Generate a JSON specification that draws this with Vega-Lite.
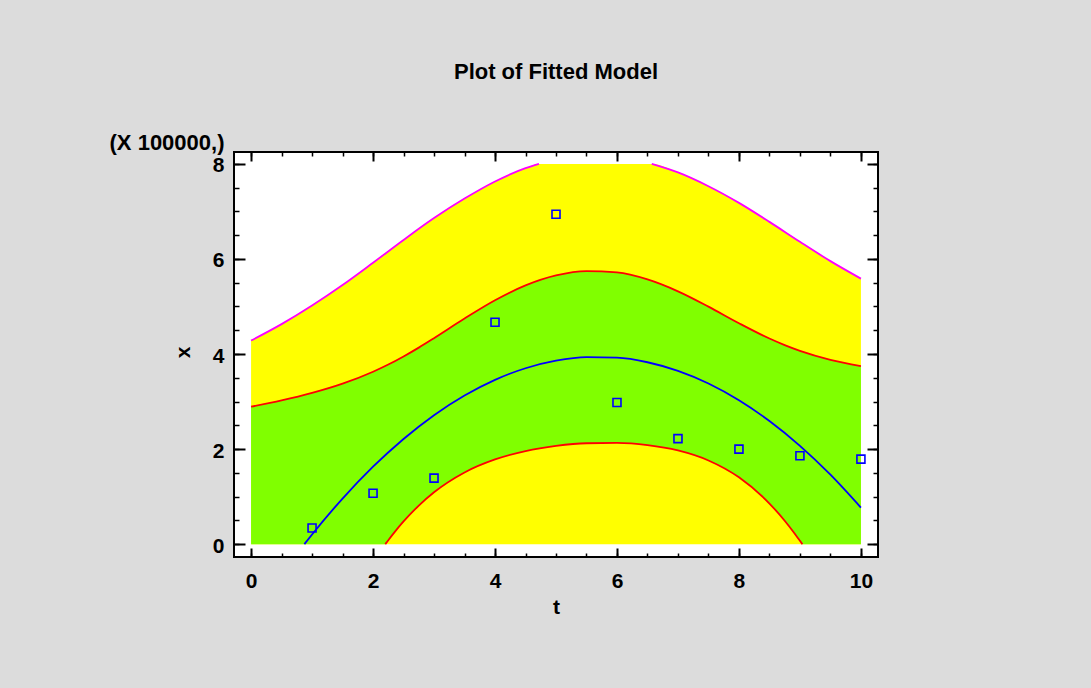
{
  "$schema": "https://vega.github.io/schema/vega-lite/v6.json",
  "width": 644,
  "height": 405,
  "autosize": {"type": "none"},
  "padding": {"left": 234, "top": 152, "right": 213, "bottom": 131},
  "background": "#dcdcdc",
  "title": {"text": "Plot of Fitted Model", "font": "Liberation Sans", "fontSize": 22, "fontWeight": "bold", "color": "#000000", "anchor": "middle", "baseline": "alphabetic", "offset": 30},
  "config": {
    "view": {"stroke": "#000000", "strokeWidth": 2, "fill": "#ffffff"},
    "axis": {"labelFont": "Liberation Sans", "labelFontSize": 21, "labelFontWeight": "bold", "labelColor": "#000000", "titleFont": "Liberation Sans", "titleFontSize": 21, "titleFontWeight": "bold", "titleColor": "#000000", "domain": false, "grid": false, "tickColor": "#000000", "labelFlush": false, "labelOverlap": false, "zindex": 1}
  },
  "datasets": {
    "band": [
      {"t": 0, "pu": 4.283, "cu": 2.892, "cl": 0},
      {"t": 0.5, "pu": 4.629, "cu": 3.023, "cl": 0},
      {"t": 1, "pu": 5.02, "cu": 3.181, "cl": 0},
      {"t": 1.5, "pu": 5.451, "cu": 3.376, "cl": 0},
      {"t": 2, "pu": 5.92, "cu": 3.628, "cl": 0},
      {"t": 2.2, "pu": 6.11, "cu": 3.747, "cl": 0},
      {"t": 2.25, "pu": 6.16, "cu": 3.779, "cl": 0.084},
      {"t": 2.35, "pu": 6.26, "cu": 3.845, "cl": 0.249},
      {"t": 2.5, "pu": 6.4, "cu": 3.949, "cl": 0.478},
      {"t": 2.75, "pu": 6.63, "cu": 4.135, "cl": 0.812},
      {"t": 3, "pu": 6.86, "cu": 4.334, "cl": 1.092},
      {"t": 3.5, "pu": 7.27, "cu": 4.746, "cl": 1.509},
      {"t": 4, "pu": 7.63, "cu": 5.13, "cl": 1.783},
      {"t": 4.5, "pu": 7.91, "cu": 5.443, "cl": 1.959},
      {"t": 4.72, "pu": 8, "cu": 5.549, "cl": 2.014},
      {"t": 5, "pu": 8, "cu": 5.653, "cl": 2.067},
      {"t": 5.5, "pu": 8, "cu": 5.745, "cl": 2.123},
      {"t": 6, "pu": 8, "cu": 5.716, "cl": 2.13},
      {"t": 6.5, "pu": 8, "cu": 5.569, "cl": 2.085},
      {"t": 6.57, "pu": 8, "cu": 5.539, "cl": 2.074},
      {"t": 7, "pu": 7.82, "cu": 5.319, "cl": 1.972},
      {"t": 7.5, "pu": 7.53, "cu": 4.997, "cl": 1.761},
      {"t": 8, "pu": 7.18, "cu": 4.648, "cl": 1.406},
      {"t": 8.5, "pu": 6.78, "cu": 4.326, "cl": 0.855},
      {"t": 8.75, "pu": 6.57, "cu": 4.188, "cl": 0.493},
      {"t": 8.9, "pu": 6.45, "cu": 4.114, "cl": 0.246},
      {"t": 9, "pu": 6.36, "cu": 4.068, "cl": 0.07},
      {"t": 9.04, "pu": 6.33, "cu": 4.05, "cl": 0},
      {"t": 9.5, "pu": 5.954, "cu": 3.879, "cl": 0},
      {"t": 10, "pu": 5.586, "cu": 3.747, "cl": 0}
    ],
    "lines": [
      {"s": "cu", "t": 0, "v": 2.892}, {"s": "cu", "t": 0.5, "v": 3.023}, {"s": "cu", "t": 1, "v": 3.181}, {"s": "cu", "t": 1.5, "v": 3.376},
      {"s": "cu", "t": 2, "v": 3.628}, {"s": "cu", "t": 2.25, "v": 3.779}, {"s": "cu", "t": 2.5, "v": 3.949}, {"s": "cu", "t": 2.75, "v": 4.135},
      {"s": "cu", "t": 3, "v": 4.334}, {"s": "cu", "t": 3.5, "v": 4.746}, {"s": "cu", "t": 4, "v": 5.13}, {"s": "cu", "t": 4.5, "v": 5.443},
      {"s": "cu", "t": 5, "v": 5.653}, {"s": "cu", "t": 5.5, "v": 5.745}, {"s": "cu", "t": 6, "v": 5.716}, {"s": "cu", "t": 6.5, "v": 5.569},
      {"s": "cu", "t": 7, "v": 5.319}, {"s": "cu", "t": 7.5, "v": 4.997}, {"s": "cu", "t": 8, "v": 4.648}, {"s": "cu", "t": 8.5, "v": 4.326},
      {"s": "cu", "t": 8.75, "v": 4.188}, {"s": "cu", "t": 9, "v": 4.068}, {"s": "cu", "t": 9.5, "v": 3.879}, {"s": "cu", "t": 10, "v": 3.747},
      {"s": "cl", "t": 2.2, "v": 0}, {"s": "cl", "t": 2.25, "v": 0.084}, {"s": "cl", "t": 2.35, "v": 0.249}, {"s": "cl", "t": 2.5, "v": 0.478},
      {"s": "cl", "t": 2.75, "v": 0.812}, {"s": "cl", "t": 3, "v": 1.092}, {"s": "cl", "t": 3.5, "v": 1.509}, {"s": "cl", "t": 4, "v": 1.783},
      {"s": "cl", "t": 4.5, "v": 1.959}, {"s": "cl", "t": 5, "v": 2.067}, {"s": "cl", "t": 5.5, "v": 2.123}, {"s": "cl", "t": 6, "v": 2.13},
      {"s": "cl", "t": 6.5, "v": 2.085}, {"s": "cl", "t": 7, "v": 1.972}, {"s": "cl", "t": 7.5, "v": 1.761}, {"s": "cl", "t": 8, "v": 1.406},
      {"s": "cl", "t": 8.5, "v": 0.855}, {"s": "cl", "t": 8.75, "v": 0.493}, {"s": "cl", "t": 8.9, "v": 0.246}, {"s": "cl", "t": 9, "v": 0.07},
      {"s": "cl", "t": 9.04, "v": 0},
      {"s": "pu1", "t": 0, "v": 4.283}, {"s": "pu1", "t": 0.5, "v": 4.629}, {"s": "pu1", "t": 1, "v": 5.02}, {"s": "pu1", "t": 1.5, "v": 5.451},
      {"s": "pu1", "t": 2, "v": 5.92}, {"s": "pu1", "t": 2.5, "v": 6.4}, {"s": "pu1", "t": 3, "v": 6.86}, {"s": "pu1", "t": 3.5, "v": 7.27},
      {"s": "pu1", "t": 4, "v": 7.63}, {"s": "pu1", "t": 4.5, "v": 7.91}, {"s": "pu1", "t": 4.72, "v": 8},
      {"s": "pu2", "t": 6.57, "v": 8}, {"s": "pu2", "t": 7, "v": 7.82}, {"s": "pu2", "t": 7.5, "v": 7.53}, {"s": "pu2", "t": 8, "v": 7.18},
      {"s": "pu2", "t": 8.5, "v": 6.78}, {"s": "pu2", "t": 9, "v": 6.36}, {"s": "pu2", "t": 9.5, "v": 5.954}, {"s": "pu2", "t": 10, "v": 5.586}
    ],
    "fit": [
      {"t": 0.874, "v": 0}, {"t": 1, "v": 0.204}, {"t": 1.5, "v": 0.959}, {"t": 2, "v": 1.629}, {"t": 2.5, "v": 2.213},
      {"t": 3, "v": 2.713}, {"t": 3.5, "v": 3.127}, {"t": 4, "v": 3.457}, {"t": 4.5, "v": 3.701}, {"t": 5, "v": 3.86},
      {"t": 5.5, "v": 3.934}, {"t": 6, "v": 3.923}, {"t": 6.5, "v": 3.827}, {"t": 7, "v": 3.645}, {"t": 7.5, "v": 3.379},
      {"t": 8, "v": 3.027}, {"t": 8.5, "v": 2.591}, {"t": 9, "v": 2.069}, {"t": 9.5, "v": 1.462}, {"t": 10, "v": 0.77}
    ],
    "obs": [
      {"t": 1, "x": 0.34}, {"t": 2, "x": 1.07}, {"t": 3, "x": 1.39}, {"t": 4, "x": 4.67}, {"t": 5, "x": 6.94},
      {"t": 6, "x": 2.98}, {"t": 7, "x": 2.22}, {"t": 8, "x": 2.0}, {"t": 9, "x": 1.86}, {"t": 10, "x": 1.79}
    ]
  },
  "resolve": {"axis": {"x": "independent", "y": "independent"}},
  "layer": [
    {
      "data": {"name": "band"},
      "mark": {"type": "area", "color": "#ffff00", "interpolate": "monotone"},
      "encoding": {
        "x": {"field": "t", "type": "quantitative", "scale": {"domain": [-0.28, 10.28], "nice": false, "zero": false},
              "axis": {"orient": "bottom", "values": [0, 2, 4, 6, 8, 10], "ticks": false, "labelPadding": 13, "title": "t", "titleX": 322, "titleY": 50, "titleAlign": "center", "titleBaseline": "middle"}},
        "y": {"field": "pu", "type": "quantitative", "scale": {"domain": [-0.27, 8.25], "nice": false, "zero": false},
              "axis": {"orient": "left", "values": [0, 2, 4, 6, 8], "ticks": false, "labelPadding": 10, "labelOffset": 2, "title": "x", "titleAngle": -90, "titleX": -51, "titleY": 200, "titleAlign": "center", "titleBaseline": "middle"}},
        "y2": {"datum": 0}
      }
    },
    {
      "data": {"name": "band"},
      "mark": {"type": "area", "color": "#80ff00", "interpolate": "monotone"},
      "encoding": {
        "x": {"field": "t", "type": "quantitative", "scale": {"domain": [-0.28, 10.28], "nice": false, "zero": false},
              "axis": {"orient": "bottom", "values": [0, 2, 4, 6, 8, 10], "labels": false, "tickSize": -9, "tickWidth": 2, "title": null}},
        "y": {"field": "cu", "type": "quantitative", "scale": {"domain": [-0.27, 8.25], "nice": false, "zero": false},
              "axis": {"orient": "left", "values": [0, 2, 4, 6, 8], "labels": false, "tickSize": -11, "tickWidth": 2, "title": "(X 100000,)", "titleFontSize": 22, "titleAngle": 0, "titleAlign": "right", "titleBaseline": "alphabetic", "titleX": -10, "titleY": -3}},
        "y2": {"field": "cl"}
      }
    },
    {
      "data": {"name": "lines"},
      "mark": {"type": "line", "interpolate": "monotone", "strokeWidth": 1.8},
      "encoding": {
        "x": {"field": "t", "type": "quantitative", "scale": {"domain": [-0.28, 10.28], "nice": false, "zero": false},
              "axis": {"orient": "bottom", "values": [0, 0.5, 1, 1.5, 2, 2.5, 3, 3.5, 4, 4.5, 5, 5.5, 6, 6.5, 7, 7.5, 8, 8.5, 9, 9.5, 10], "labels": false, "tickSize": -4, "tickWidth": 1.5, "title": null}},
        "y": {"field": "v", "type": "quantitative", "scale": {"domain": [-0.27, 8.25], "nice": false, "zero": false},
              "axis": {"orient": "left", "values": [0, 0.5, 1, 1.5, 2, 2.5, 3, 3.5, 4, 4.5, 5, 5.5, 6, 6.5, 7, 7.5, 8], "labels": false, "tickSize": -5, "tickWidth": 1.5, "title": null}},
        "color": {"field": "s", "type": "nominal", "scale": {"domain": ["cu", "cl", "pu1", "pu2"], "range": ["#ff0000", "#ff0000", "#ff00ff", "#ff00ff"]}, "legend": null}
      }
    },
    {
      "data": {"name": "fit"},
      "mark": {"type": "line", "interpolate": "monotone", "strokeWidth": 1.8, "color": "#0000ff"},
      "encoding": {
        "x": {"field": "t", "type": "quantitative", "scale": {"domain": [-0.28, 10.28], "nice": false, "zero": false},
              "axis": {"orient": "top", "values": [0, 2, 4, 6, 8, 10], "labels": false, "tickSize": -9, "tickWidth": 2, "title": null}},
        "y": {"field": "v", "type": "quantitative", "scale": {"domain": [-0.27, 8.25], "nice": false, "zero": false},
              "axis": {"orient": "right", "values": [0, 2, 4, 6, 8], "labels": false, "tickSize": -11, "tickWidth": 2, "title": null}}
      }
    },
    {
      "data": {"name": "obs"},
      "mark": {"type": "point", "shape": "square", "filled": false, "color": "#0000ff", "size": 64, "strokeWidth": 1.6, "opacity": 1},
      "encoding": {
        "x": {"field": "t", "type": "quantitative", "scale": {"domain": [-0.28, 10.28], "nice": false, "zero": false},
              "axis": {"orient": "top", "values": [0, 0.5, 1, 1.5, 2, 2.5, 3, 3.5, 4, 4.5, 5, 5.5, 6, 6.5, 7, 7.5, 8, 8.5, 9, 9.5, 10], "labels": false, "tickSize": -4, "tickWidth": 1.5, "title": null}},
        "y": {"field": "x", "type": "quantitative", "scale": {"domain": [-0.27, 8.25], "nice": false, "zero": false},
              "axis": {"orient": "right", "values": [0, 0.5, 1, 1.5, 2, 2.5, 3, 3.5, 4, 4.5, 5, 5.5, 6, 6.5, 7, 7.5, 8], "labels": false, "tickSize": -5, "tickWidth": 1.5, "title": null}}
      }
    }
  ]
}
